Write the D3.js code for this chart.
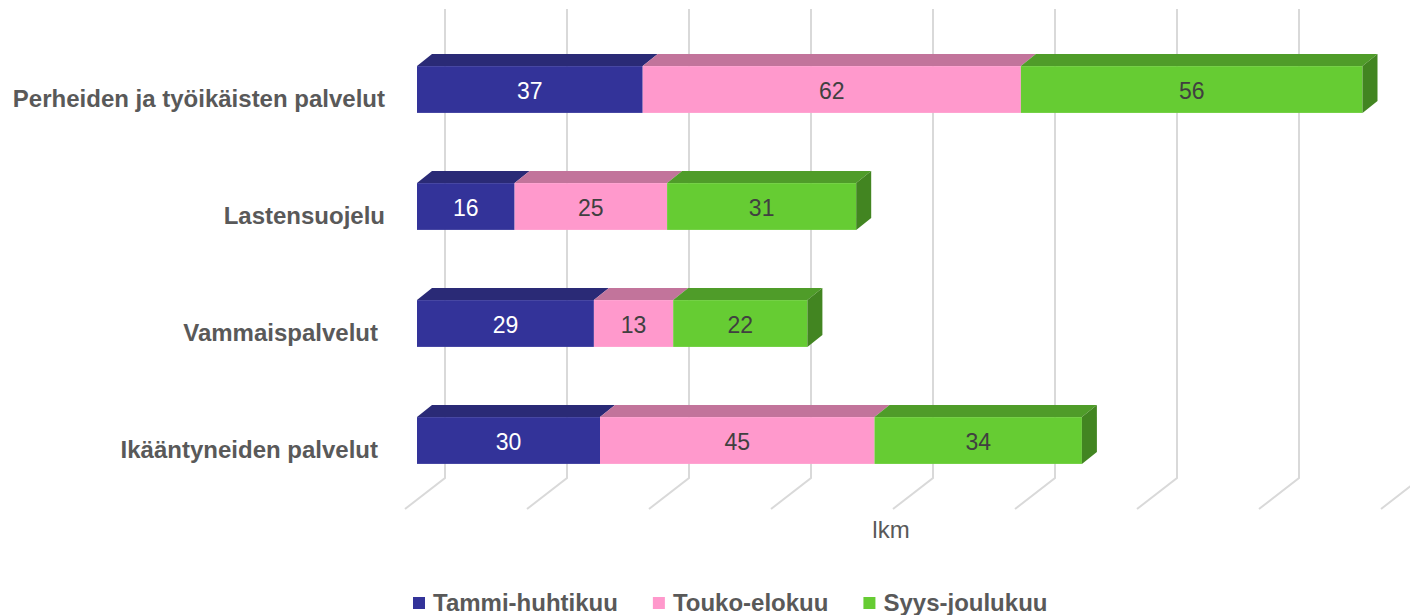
<!DOCTYPE html>
<html>
<head>
<meta charset="utf-8">
<script src="https://cdn.jsdelivr.net/npm/d3@7"></script>
<style>
  body { margin: 0; background: #fff; }
  text { font-family: "Liberation Sans", Arial, sans-serif; }
</style>
</head>
<body>
<script>
// data
var categories = ["Perheiden ja työikäisten palvelut", "Lastensuojelu", "Vammaispalvelut", "Ikääntyneiden palvelut"];
var seriesNames = ["Tammi-huhtikuu", "Touko-elokuu", "Syys-joulukuu"];
var tammi = [37, 16, 29, 30];
var touko = [62, 25, 13, 45];
var syys = [56, 31, 22, 34];
var ticks = [0, 20, 40, 60, 80, 100, 120, 140, 160];
var axisTitle = "lkm";

var width = 1410, height = 615;
var front = ["#333399", "#ff99cc", "#66cc33"];
var topc = ["#2a2a76", "#c2749b", "#4f9c29"];
var sidec = ["#262670", "#b06a8d", "#428521"];
var textc = ["#ffffff", "#404040", "#404040"];

var depthX = 15, depthY = 12;   // bar 3D offset
var backX = 28, floorX = 40, floorY = 31;

var svg = d3.select("body").append("svg")
  .attr("width", width)
  .attr("height", height);

var x = d3.scaleLinear().domain([0, 160]).range([417, 1393]);
var y = d3.scaleBand().domain(categories).range([31, 499])
  .paddingInner(0.6).paddingOuter(0.3);

var floorTop = 478;

// gridlines on back wall + floor
var grid = svg.append("g");
ticks.forEach(function(t) {
  var bx = x(t) + backX;
  grid.append("path")
    .attr("d", "M" + bx + ",9 L" + bx + "," + floorTop + " L" + (bx - floorX) + "," + (floorTop + floorY))
    .attr("fill", "none")
    .attr("stroke", "#d9d9d9")
    .attr("stroke-width", 2);
});

var series = [tammi, touko, syys];

categories.forEach(function(c, i) {
  var top = y(c), h = y.bandwidth();
  var start = 0;
  var g = svg.append("g");
  series.forEach(function(s, k) {
    var v = s[i];
    var x0 = x(start), x1 = x(start + v);
    // top face
    g.append("path")
      .attr("d", "M" + x0 + "," + top + " L" + x1 + "," + top +
        " L" + (x1 + depthX) + "," + (top - depthY) + " L" + (x0 + depthX) + "," + (top - depthY) + "Z")
      .attr("fill", topc[k]);
    // front face
    g.append("rect")
      .attr("x", x0).attr("y", top)
      .attr("width", x1 - x0).attr("height", h)
      .attr("fill", front[k]);
    // side face only on last segment
    if (k == series.length - 1) {
      g.append("path")
        .attr("d", "M" + x1 + "," + top + " L" + (x1 + depthX) + "," + (top - depthY) +
          " L" + (x1 + depthX) + "," + (top + h - depthY) + " L" + x1 + "," + (top + h) + "Z")
        .attr("fill", sidec[k]);
    }
    g.append("text")
      .attr("x", (x0 + x1) / 2)
      .attr("y", top + h / 2 + 1)
      .attr("dy", "0.35em")
      .attr("text-anchor", "middle")
      .attr("font-size", "23px")
      .attr("fill", textc[k])
      .text(v);
    start += v;
  });
});

// category labels
svg.selectAll(".cat")
  .data(categories)
  .enter()
  .append("text")
  .attr("class", "cat")
  .attr("x", function(d, i) { return i < 2 ? 385 : 378; })
  .attr("y", function(d) { return y(d) + y.bandwidth() / 2 + 9.5; })
  .attr("dy", "0.35em")
  .attr("text-anchor", "end")
  .attr("font-size", "24px")
  .attr("font-weight", "bold")
  .attr("fill", "#595959")
  .text(function(d) { return d; });

// axis title
svg.append("text")
  .attr("x", 891)
  .attr("y", 538)
  .attr("text-anchor", "middle")
  .attr("font-size", "24px")
  .attr("fill", "#595959")
  .text(axisTitle);

// legend
var lx = 413;
seriesNames.forEach(function(n, k) {
  svg.append("rect")
    .attr("x", lx).attr("y", 597)
    .attr("width", 12).attr("height", 12)
    .attr("fill", front[k]);
  var t = svg.append("text")
    .attr("x", lx + 20)
    .attr("y", 611)
    .attr("font-size", "24px")
    .attr("font-weight", "bold")
    .attr("fill", "#595959")
    .text(n);
  lx = lx + 20 + t.node().getComputedTextLength() + 35;
});
</script>
</body>
</html>
